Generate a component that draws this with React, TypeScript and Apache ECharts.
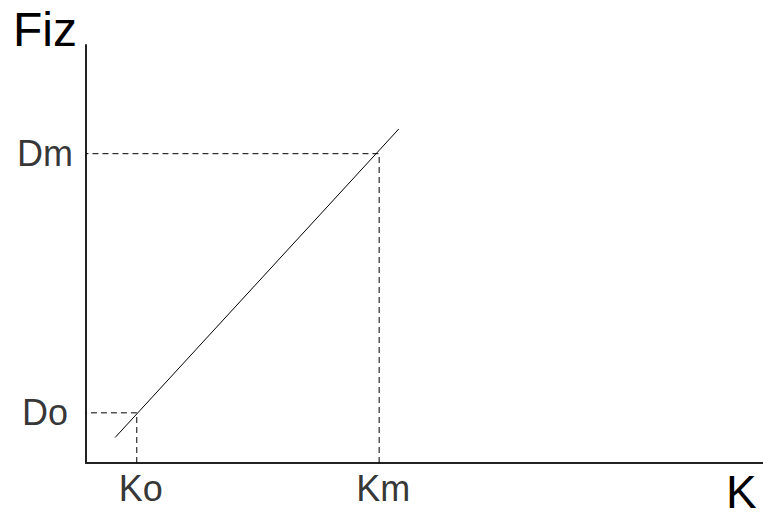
import React, { useEffect, useRef } from "react";
import * as echarts from "echarts";

// Axis titles
const X_NAME = "K";
const Y_NAME = "Fiz";

// Straight line Fiz(K): endpoints
const LINE_K = [0.43, 4.62];
const LINE_FIZ = [0.61, 7.99];

// Marked points
const MARK_K_LABELS = ["Ko", "Km"];
const MARK_K_VALUES = [0.75, 4.33];
const MARK_FIZ_LABELS = ["Do", "Dm"];
const MARK_FIZ_VALUES = [1.2, 7.4];

const FONT = "'Liberation Sans', Arial, sans-serif";

export default function App() {
  const ref = useRef<HTMLDivElement>(null);
  useEffect(() => {
    if (!ref.current) return;
    const chart = echarts.init(ref.current, null, { renderer: "svg" });

    const guideSeries = MARK_K_VALUES.map((k, i) => ({
      type: "line",
      data: [
        [k, 0],
        [k, MARK_FIZ_VALUES[i]],
        [0, MARK_FIZ_VALUES[i]],
      ],
      showSymbol: false,
      lineStyle: { color: "#000", width: 1, type: [6, 4] },
      silent: true,
      z: 2,
    }));

    const kLabels = {
      type: "scatter",
      symbolSize: 0,
      data: MARK_K_VALUES.map((k, i) => ({ value: [k, 0], name: MARK_K_LABELS[i] })),
      label: {
        show: true,
        position: "inside",
        offset: [4, 25],
        formatter: (p: any) => p.name,
        color: "#000",
        fontSize: 36,
        fontFamily: FONT,
      },
      silent: true,
    };

    const fizLabels = {
      type: "scatter",
      symbolSize: 0,
      data: MARK_FIZ_VALUES.map((v, i) => ({ value: [0, v], name: MARK_FIZ_LABELS[i] })),
      label: {
        show: true,
        position: "inside",
        offset: [-41, 0],
        formatter: (p: any) => p.name,
        color: "#000",
        fontSize: 36,
        fontFamily: FONT,
      },
      silent: true,
    };

    const axisCommon = {
      type: "value",
      min: 0,
      max: 10,
      axisLine: { show: true, onZero: false, lineStyle: { color: "#222", width: 2 } },
      axisTick: { show: false },
      axisLabel: { show: false },
      splitLine: { show: false },
    };

    chart.setOption({
      animation: false,
      backgroundColor: "#fff",
      grid: { left: 86, right: 0, top: 45, bottom: 55, containLabel: false },
      xAxis: { ...axisCommon },
      yAxis: { ...axisCommon },
      graphic: [
        {
          type: "text",
          left: 13,
          top: 5,
          style: { text: Y_NAME, fontSize: 48, fontFamily: FONT, fill: "#000" },
        },
        {
          type: "text",
          left: 726,
          top: 469,
          style: { text: X_NAME, fontSize: 46, lineHeight: 46, fontFamily: FONT, fill: "#000" },
        },
      ],
      series: [
        {
          type: "line",
          data: LINE_K.map((k, i) => [k, LINE_FIZ[i]]),
          showSymbol: false,
          lineStyle: { color: "#000", width: 1 },
          silent: true,
          z: 3,
        },
        ...guideSeries,
        kLabels,
        fizLabels,
      ],
    });
    return () => chart.dispose();
  }, []);
  return (
    <div
      ref={ref}
      style={{ position: "fixed", left: 0, top: 0, width: 763, height: 518 }}
    />
  );
}
